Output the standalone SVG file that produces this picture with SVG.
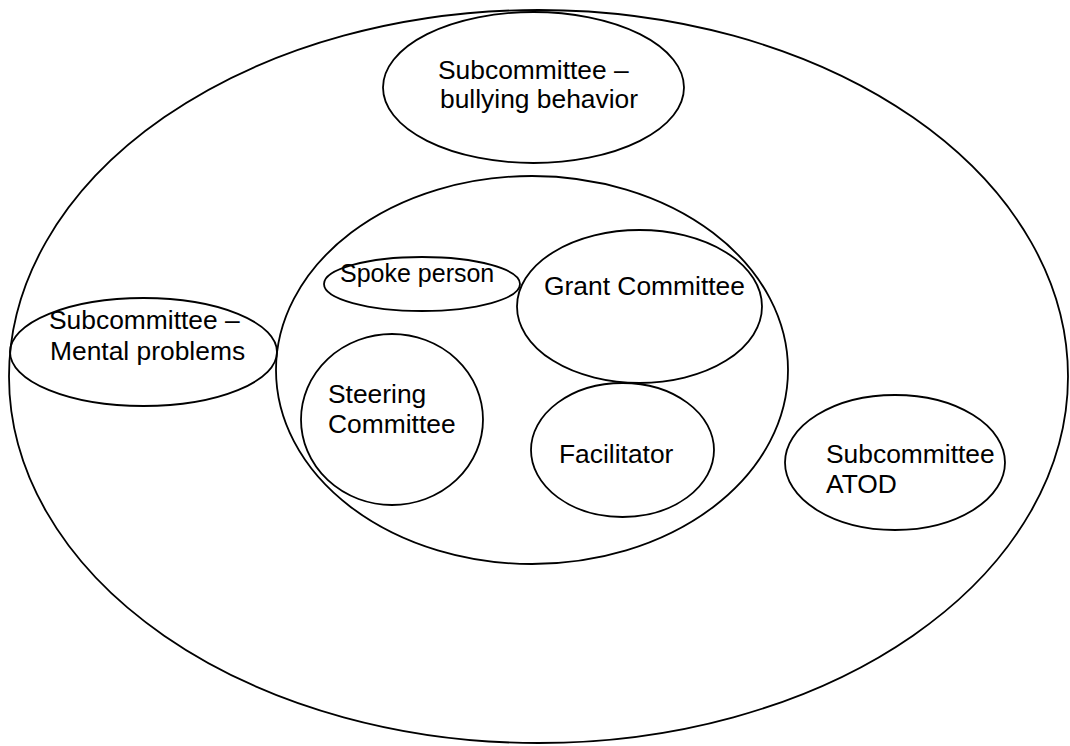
<svg xmlns="http://www.w3.org/2000/svg" width="1070" height="746" viewBox="0 0 1070 746">
  <style>
    .shape { fill: none; stroke: #000; stroke-width: 1.8; }
    .label { font-family: "Liberation Sans", Arial, sans-serif; font-size: 26.4px; fill: #000; }
    .small { font-size: 25px; }
  </style>
  <rect width="1070" height="746" fill="#fff"/>

  <!-- coalition boundary -->
  <g id="coalition">
    <ellipse class="shape" cx="538.5" cy="376.5" rx="529.5" ry="366.5"/>
  </g>

  <g id="subcommittee-bullying">
    <ellipse class="shape" cx="533.5" cy="87.5" rx="150.5" ry="75.5"/>
    <text class="label" x="438" y="79">Subcommittee –</text>
    <text class="label" x="440" y="108">bullying behavior</text>
  </g>

  <g id="subcommittee-mental">
    <ellipse class="shape" cx="143.5" cy="352" rx="133.5" ry="54"/>
    <text class="label" x="49" y="329">Subcommittee –</text>
    <text class="label" x="50" y="360">Mental problems</text>
  </g>

  <!-- core group -->
  <g id="core">
    <ellipse class="shape" cx="532" cy="370" rx="256" ry="194"/>
  </g>

  <g id="spoke-person">
    <ellipse class="shape" cx="422" cy="284" rx="98" ry="27"/>
    <text class="label small" x="340" y="282">Spoke person</text>
  </g>

  <g id="grant-committee">
    <ellipse class="shape" cx="639.5" cy="306.5" rx="122.5" ry="76.5"/>
    <text class="label" x="544" y="295">Grant Committee</text>
  </g>

  <g id="steering-committee">
    <ellipse class="shape" cx="392" cy="419.5" rx="91" ry="85.5"/>
    <text class="label" x="328" y="403">Steering</text>
    <text class="label" x="328" y="433">Committee</text>
  </g>

  <g id="facilitator">
    <ellipse class="shape" cx="622.5" cy="450" rx="91.5" ry="67"/>
    <text class="label" x="559" y="463">Facilitator</text>
  </g>

  <g id="subcommittee-atod">
    <ellipse class="shape" cx="895" cy="462.5" rx="110" ry="67.5"/>
    <text class="label" x="826" y="463">Subcommittee</text>
    <text class="label" x="826" y="493">ATOD</text>
  </g>

  <g id="connectors"/>
</svg>
